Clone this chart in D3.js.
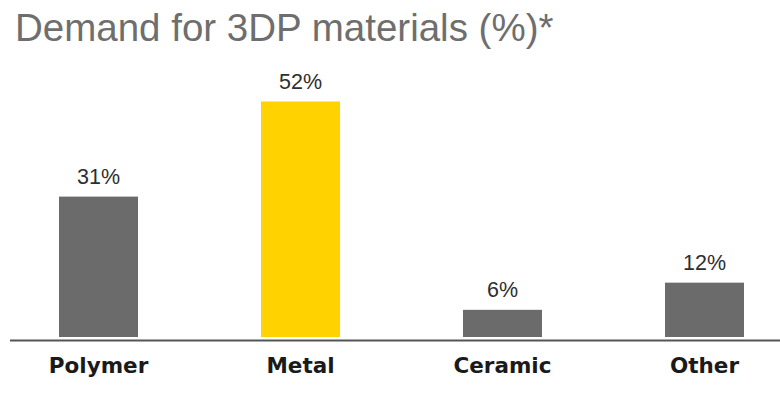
<!DOCTYPE html>
<html>
<head>
<meta charset="utf-8">
<script src="https://cdn.jsdelivr.net/npm/d3@7"></script>
<style>
  html, body { margin: 0; padding: 0; background: #ffffff; }
  svg { display: block; }
</style>
</head>
<body>
<svg id="chart" width="780" height="401"></svg>
<script>
const titleText = "Demand for 3DP materials (%)*";
const categories = ["Polymer", "Metal", "Ceramic", "Other"];
const values = [31, 52, 6, 12];
const valueLabels = ["31%", "52%", "6%", "12%"];
const highlight = ["Metal"];

const W = 780, H = 401;
const baseY = 337;
const svg = d3.select("#chart");

const x = d3.scaleBand()
  .domain(categories)
  .range([-2.5, 805.5])
  .paddingInner(0.609)
  .paddingOuter(0.3045);

const y = d3.scaleLinear()
  .domain([0, 52])
  .range([baseY, 101.5]);

// title
svg.append("text")
  .attr("x", 15)
  .attr("y", 41)
  .attr("font-family", "'Liberation Sans', Arial, sans-serif")
  .attr("font-size", 38.5)
  .attr("fill", "#6e6e6e")
  .text(titleText);

// bars
svg.selectAll("rect.bar")
  .data(categories)
  .join("rect")
  .attr("class", "bar")
  .attr("x", d => x(d))
  .attr("width", x.bandwidth())
  .attr("y", (d, i) => y(values[i]))
  .attr("height", (d, i) => baseY - y(values[i]))
  .attr("fill", d => highlight.includes(d) ? "#ffd200" : "#6b6b6b");

// value labels
svg.selectAll("text.val")
  .data(categories)
  .join("text")
  .attr("class", "val")
  .attr("x", d => x(d) + x.bandwidth() / 2)
  .attr("y", (d, i) => y(values[i]) - 13)
  .attr("text-anchor", "middle")
  .attr("font-family", "'Liberation Sans', Arial, sans-serif")
  .attr("font-size", 21.5)
  .attr("fill", "#2e2e2e")
  .text((d, i) => valueLabels[i]);

// axis
const axis = d3.axisBottom(x).tickSize(0).tickPadding(0);
const gAxis = svg.append("g")
  .attr("transform", `translate(0,${baseY + 3.5})`)
  .call(axis);
gAxis.select(".domain").remove();
gAxis.append("line")
  .attr("x1", 10).attr("x2", W)
  .attr("y1", 0).attr("y2", 0)
  .attr("stroke", "#555555")
  .attr("stroke-width", 2);
gAxis.selectAll(".tick text")
  .attr("y", 32)
  .attr("dy", 0)
  .attr("font-family", "'DejaVu Sans', Verdana, sans-serif")
  .attr("font-weight", "bold")
  .attr("font-size", 21.5)
  .attr("fill", "#1a1a1a");
</script>
</body>
</html>
